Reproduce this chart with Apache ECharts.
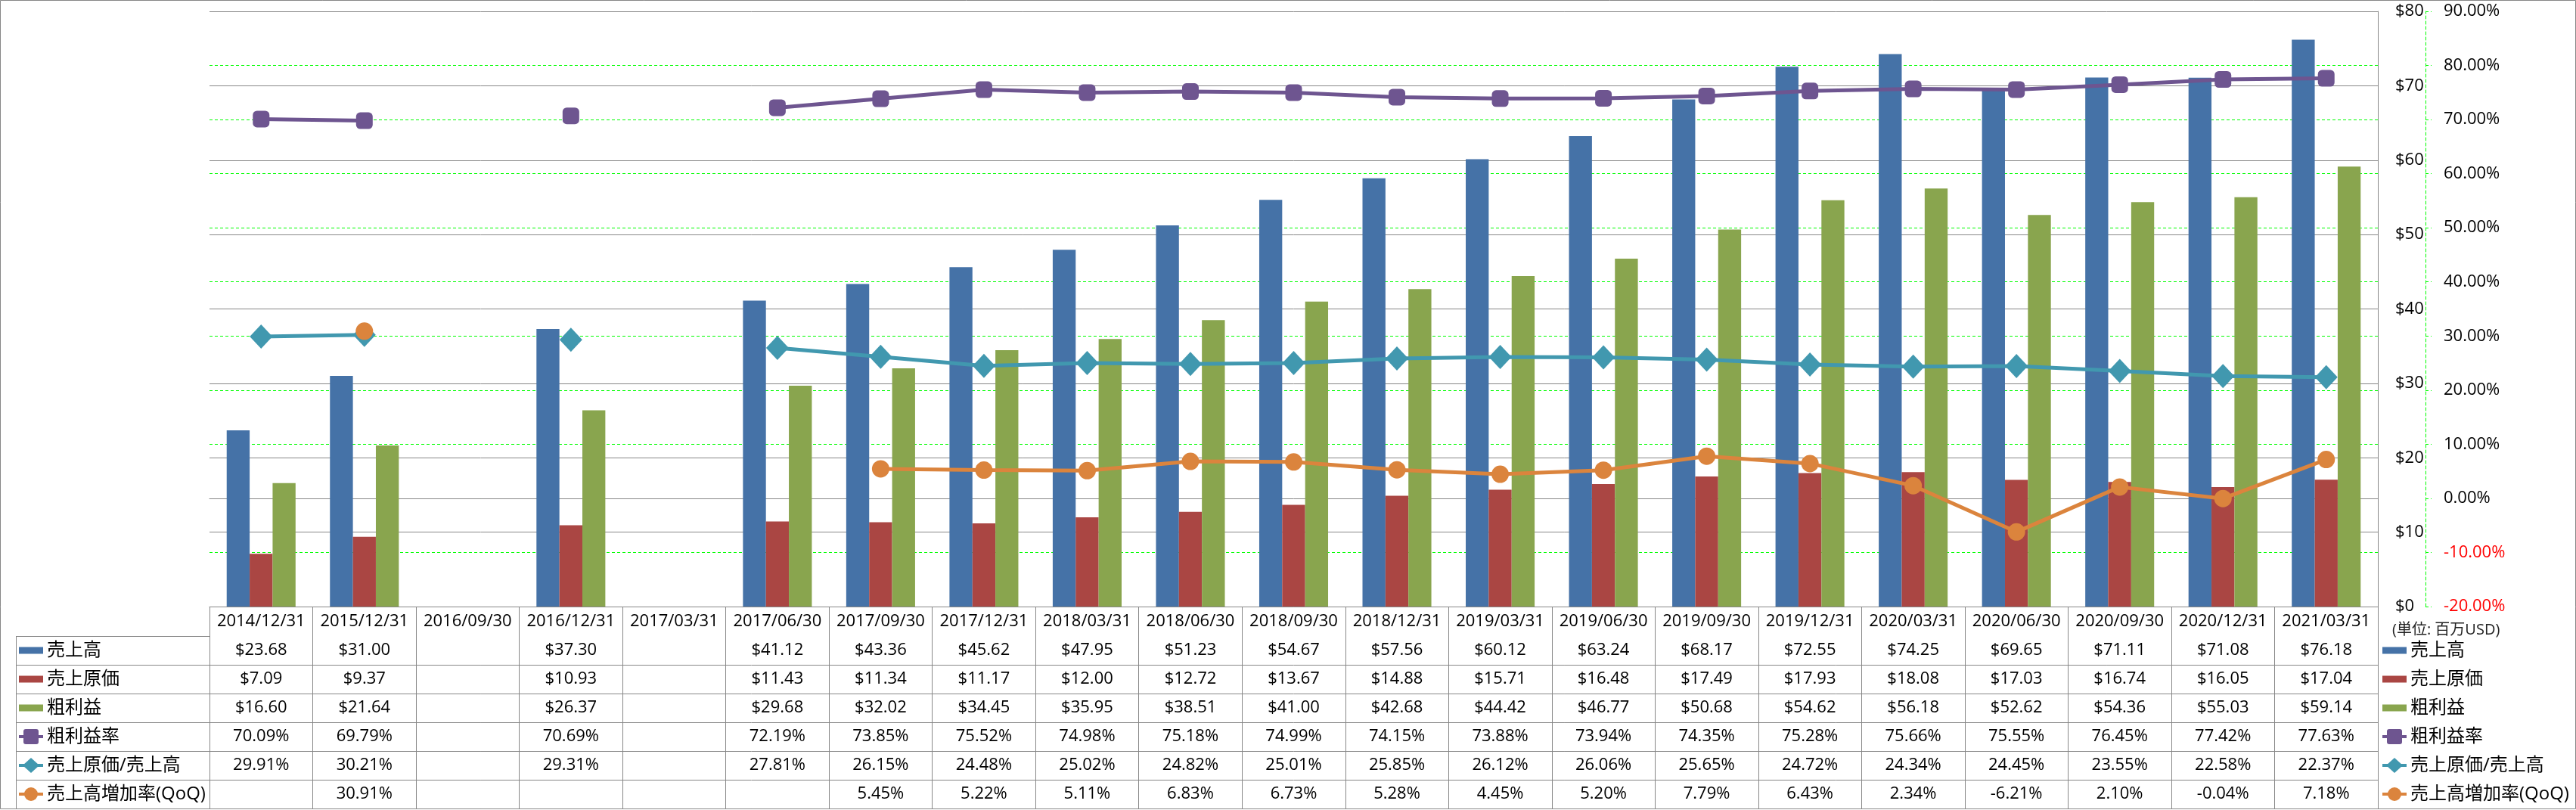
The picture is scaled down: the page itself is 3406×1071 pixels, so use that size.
<!DOCTYPE html>
<html>
<head>
<meta charset="utf-8">
<script src="https://cdn.jsdelivr.net/npm/echarts@6/dist/echarts.min.js"></script>
<style>
html,body{margin:0;padding:0;background:#fff;}
#chart{width:3406px;height:1071px;}
</style>
</head>
<body>
<div id="chart"></div>
<script>
const categories = ['2014/12/31','2015/12/31','2016/09/30','2016/12/31','2017/03/31','2017/06/30','2017/09/30','2017/12/31','2018/03/31','2018/06/30','2018/09/30','2018/12/31','2019/03/31','2019/06/30','2019/09/30','2019/12/31','2020/03/31','2020/06/30','2020/09/30','2020/12/31','2021/03/31'];
const sales = [23.68,31.00,null,37.30,null,41.12,43.36,45.62,47.95,51.23,54.67,57.56,60.12,63.24,68.17,72.55,74.25,69.65,71.11,71.08,76.18];
const cogs = [7.09,9.37,null,10.93,null,11.43,11.34,11.17,12.00,12.72,13.67,14.88,15.71,16.48,17.49,17.93,18.08,17.03,16.74,16.05,17.04];
const gross = [16.60,21.64,null,26.37,null,29.68,32.02,34.45,35.95,38.51,41.00,42.68,44.42,46.77,50.68,54.62,56.18,52.62,54.36,55.03,59.14];
const grossMargin = [70.09,69.79,null,70.69,null,72.19,73.85,75.52,74.98,75.18,74.99,74.15,73.88,73.94,74.35,75.28,75.66,75.55,76.45,77.42,77.63];
const cogsRatio = [29.91,30.21,null,29.31,null,27.81,26.15,24.48,25.02,24.82,25.01,25.85,26.12,26.06,25.65,24.72,24.34,24.45,23.55,22.58,22.37];
const qoq = [null,30.91,null,null,null,null,5.45,5.22,5.11,6.83,6.73,5.28,4.45,5.20,7.79,6.43,2.34,-6.21,2.10,-0.04,7.18];
const seriesNames = ['売上高','売上原価','粗利益','粗利益率','売上原価/売上高','売上高増加率(QoQ)'];
const unitNote = '(単位: 百万USD)';

const FONT = "'Open Sans','Noto Sans CJK JP',sans-serif";
const colors = ['#4572A7','#AA4643','#89A54E','#6E5590','#4198AF','#DB843D'];
const GREY = '#878787';
const GREEN = '#00ff00';

const G_LEFT = 277, G_RIGHT = 3144, G_TOP = 15, G_BOTTOM = 802;
const ROW_H = 38, HEAD_H = 39;

const rows = [
  {data: sales, fmt: v => '$' + v.toFixed(2)},
  {data: cogs, fmt: v => '$' + v.toFixed(2)},
  {data: gross, fmt: v => '$' + v.toFixed(2)},
  {data: grossMargin, fmt: v => v.toFixed(2) + '%'},
  {data: cogsRatio, fmt: v => v.toFixed(2) + '%'},
  {data: qoq, fmt: v => v.toFixed(2) + '%'}
];

const xAxes = [{
  type: 'category', data: categories, gridIndex: 0, position: 'bottom',
  axisLine: {show: true, lineStyle: {color: GREY, width: 1}},
  axisTick: {show: true, length: 267, lineStyle: {color: GREY, width: 1}},
  axisLabel: {interval: 0, margin: 20, verticalAlign: 'middle', fontFamily: FONT, fontSize: 22, color: '#000'}
}];
rows.forEach((r, k) => {
  xAxes.push({
    type: 'category', data: categories, gridIndex: 0, position: 'bottom',
    offset: HEAD_H + ROW_H * k,
    axisLine: {show: true, lineStyle: {color: GREY, width: 1}},
    axisTick: {show: false},
    axisLabel: {interval: 0, margin: 19, verticalAlign: 'middle', fontFamily: FONT, fontSize: 22, color: '#000',
      formatter: (val, idx) => r.data[idx] == null ? '' : r.fmt(r.data[idx])}
  });
});
xAxes.push({
  type: 'category', data: categories, gridIndex: 0, position: 'bottom',
  offset: HEAD_H + ROW_H * rows.length,
  axisLine: {show: true, lineStyle: {color: GREY, width: 1}},
  axisTick: {show: false}, axisLabel: {show: false}
});

function legendItems(xIcon, xText) {
  const els = [];
  seriesNames.forEach((name, i) => {
    const cy = G_BOTTOM + HEAD_H + ROW_H * i + 19;
    if (i < 3) {
      els.push({type: 'rect', shape: {x: xIcon, y: cy - 4.5, width: 32, height: 9}, style: {fill: colors[i]}});
    } else {
      els.push({type: 'line', shape: {x1: xIcon, y1: cy, x2: xIcon + 32, y2: cy}, style: {stroke: colors[i], lineWidth: 4}});
      const cx = xIcon + 16;
      if (i === 3) els.push({type: 'rect', shape: {x: cx - 10, y: cy - 10, width: 20, height: 20, r: 3}, style: {fill: colors[i]}});
      if (i === 4) els.push({type: 'polygon', shape: {points: [[cx, cy - 10], [cx + 11, cy], [cx, cy + 10], [cx - 11, cy]]}, style: {fill: colors[i]}});
      if (i === 5) els.push({type: 'circle', shape: {cx: cx, cy: cy, r: 9}, style: {fill: colors[i]}});
    }
    els.push({type: 'text', x: xText, y: cy, style: {text: name, font: '24px ' + FONT, fill: '#000', verticalAlign: 'middle', align: 'left'}});
  });
  return els;
}

const graphics = [];
graphics.push({type: 'rect', shape: {x: 0.5, y: 0.5, width: 3405, height: 1069}, style: {fill: 'none', stroke: GREY, lineWidth: 1}, z: 0});
for (let k = 0; k <= rows.length; k++) {
  const y = G_BOTTOM + HEAD_H + ROW_H * k + 0.5;
  graphics.push({type: 'line', shape: {x1: 21, y1: y, x2: G_LEFT, y2: y}, style: {stroke: GREY, lineWidth: 1}});
}
graphics.push({type: 'line', shape: {x1: 21.5, y1: G_BOTTOM + HEAD_H, x2: 21.5, y2: G_BOTTOM + HEAD_H + ROW_H * rows.length}, style: {stroke: GREY, lineWidth: 1}});
legendItems(25, 62).forEach(e => graphics.push(e));
legendItems(3150, 3187).forEach(e => graphics.push(e));
graphics.push({type: 'text', x: 3163, y: 833, style: {text: unitNote, font: '20px ' + FONT, fill: '#222', verticalAlign: 'middle', align: 'left'}});

const lineCommon = {type: 'line', yAxisIndex: 1, connectNulls: false, showAllSymbol: true, z: 5};

const option = {
  animation: false,
  backgroundColor: '#fff',
  grid: {left: G_LEFT, right: 3406 - G_RIGHT, top: G_TOP, bottom: 1071 - G_BOTTOM, containLabel: false},
  xAxis: xAxes,
  yAxis: [{
    type: 'value', position: 'right', min: 0, max: 80, interval: 10,
    axisLine: {show: true, lineStyle: {color: GREY, width: 1}},
    axisTick: {show: false},
    axisLabel: {margin: 23, fontFamily: FONT, fontSize: 22, color: '#000', formatter: v => '$' + v},
    splitLine: {show: true, lineStyle: {color: GREY, width: 1}}
  }, {
    type: 'value', position: 'right', offset: 63, min: -20, max: 90, interval: 10,
    axisLine: {show: true, lineStyle: {color: GREEN, width: 1, type: [4, 3]}},
    axisTick: {show: true, length: 8, lineStyle: {color: GREEN, width: 1, type: [4, 3]}},
    axisLabel: {margin: 24, fontFamily: FONT, fontSize: 22,
      color: v => Number(v) < 0 ? '#ff0000' : '#000',
      formatter: v => v.toFixed(2) + '%'},
    splitLine: {show: true, showMinLine: false, showMaxLine: false, lineStyle: {color: GREEN, width: 1, type: [4, 3]}}
  }],
  series: [
    {name: seriesNames[0], type: 'bar', data: sales, barGap: 0, barCategoryGap: '33.3%', itemStyle: {color: colors[0]}, z: 3},
    {name: seriesNames[1], type: 'bar', data: cogs, barGap: 0, barCategoryGap: '33.3%', itemStyle: {color: colors[1]}, z: 3},
    {name: seriesNames[2], type: 'bar', data: gross, barGap: 0, barCategoryGap: '33.3%', itemStyle: {color: colors[2]}, z: 3},
    Object.assign({}, lineCommon, {name: seriesNames[3], data: grossMargin, symbol: 'roundRect', symbolSize: 22,
      lineStyle: {color: colors[3], width: 5}, itemStyle: {color: colors[3]}}),
    Object.assign({}, lineCommon, {name: seriesNames[4], data: cogsRatio, symbol: 'diamond', symbolSize: [30, 32],
      lineStyle: {color: colors[4], width: 5}, itemStyle: {color: colors[4]}}),
    Object.assign({}, lineCommon, {name: seriesNames[5], data: qoq, symbol: 'circle', symbolSize: 23,
      lineStyle: {color: colors[5], width: 5}, itemStyle: {color: colors[5]}})
  ],
  graphic: {elements: graphics}
};

const chart = echarts.init(document.getElementById('chart'), null, {renderer: 'canvas'});
chart.setOption(option);
</script>
</body>
</html>
